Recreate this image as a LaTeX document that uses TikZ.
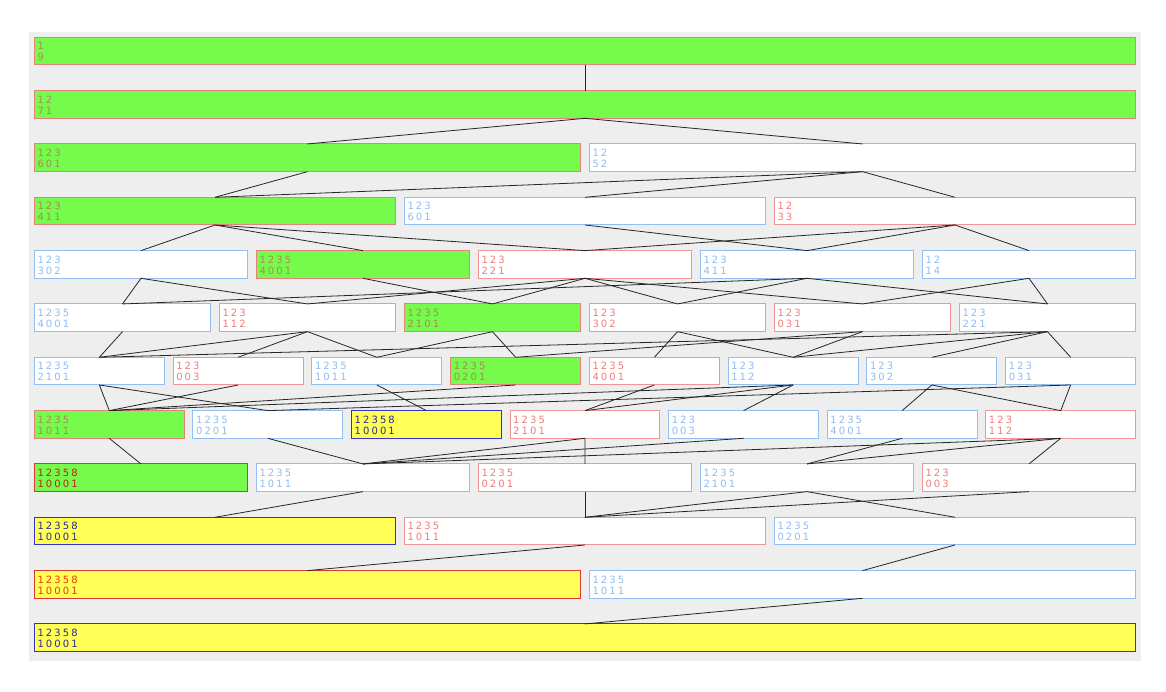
\documentclass[tikz,border=0pt]{standalone}
\usepackage{fontspec}
\newfontfamily\lblfont[LetterSpace=21]{DejaVu Sans}
\definecolor{bgc}{HTML}{EEEEEE}
\definecolor{grn}{HTML}{76FA4C}
\definecolor{salmon}{HTML}{E48478}
\definecolor{brn}{HTML}{A48E52}
\definecolor{lblue}{HTML}{92BEF2}
\definecolor{lbluet}{HTML}{90BCF2}
\definecolor{lred}{HTML}{F09696}
\definecolor{lredt}{HTML}{F07C7C}
\definecolor{ylw}{HTML}{FFFF55}
\definecolor{dblue}{HTML}{3434CC}
\definecolor{dbluet}{HTML}{2A2A96}
\definecolor{rred}{HTML}{DC3636}
\definecolor{rredt}{HTML}{E83A10}
\definecolor{drt}{HTML}{B02A10}
\tikzset{
  boxbase/.style={rectangle, inner sep=0pt, outer sep=0pt, line width=1pt, anchor=north west, minimum height=27.7pt},
  greenbox/.style={boxbase, fill=grn, draw=salmon},
  greenredbox/.style={boxbase, fill=grn, draw=rred},
  bluebox/.style={boxbase, fill=white, draw=lblue},
  redbox/.style={boxbase, fill=white, draw=lred},
  yellowbluebox/.style={boxbase, fill=ylw, draw=dblue},
  yellowredbox/.style={boxbase, fill=ylw, draw=rred},
  lbl/.style={font=\lblfont\fontsize{10}{11}\selectfont, inner sep=0pt, anchor=base west},
  conn/.style={draw=black!85, line width=0.8pt},
}
% #1 name, #2 row, #3 col, #4 boxes in row, #5 box style, #6 text colour, #7 line 1, #8 line 2
\newcommand\mkbox[8]{%
  \pgfmathsetmacro\bxp{1110/#4}%
  \pgfmathsetmacro\bxl{34.3+#3*\bxp}%
  \pgfmathsetmacro\bxw{\bxp-8.6}%
  \pgfmathsetmacro\bxt{37.3+53.33*#2}%
  \node[#5, minimum width=\bxw pt] (#1) at (\bxl,\bxt) {};%
  \node[lbl, text=#6] at ([shift={(3pt,-12.5pt)}]#1.north west) {#7};%
  \node[lbl, text=#6] at ([shift={(3pt,-23.5pt)}]#1.north west) {#8};%
}
\begin{document}
\begin{tikzpicture}[x=1pt,y=-1pt]
\useasboundingbox (0,0) rectangle (1166,692);
\fill[white] (0,0) rectangle (1166,692);
\fill[bgc] (29,31.7) rectangle (1140.7,660.7);
% row 0
\mkbox{a1}{0}{0}{1}{greenbox}{brn}{1}{9}
% row 1
\mkbox{b1}{1}{0}{1}{greenbox}{brn}{12}{71}
% row 2
\mkbox{c1}{2}{0}{2}{greenbox}{brn}{123}{601}
\mkbox{c2}{2}{1}{2}{bluebox}{lbluet}{12}{52}
% row 3
\mkbox{d1}{3}{0}{3}{greenbox}{brn}{123}{411}
\mkbox{d2}{3}{1}{3}{bluebox}{lbluet}{123}{601}
\mkbox{d3}{3}{2}{3}{redbox}{lredt}{12}{33}
% row 4
\mkbox{e1}{4}{0}{5}{bluebox}{lbluet}{123}{302}
\mkbox{e2}{4}{1}{5}{greenbox}{brn}{1235}{4001}
\mkbox{e3}{4}{2}{5}{redbox}{lredt}{123}{221}
\mkbox{e4}{4}{3}{5}{bluebox}{lbluet}{123}{411}
\mkbox{e5}{4}{4}{5}{bluebox}{lbluet}{12}{14}
% row 5
\mkbox{f1}{5}{0}{6}{bluebox}{lbluet}{1235}{4001}
\mkbox{f2}{5}{1}{6}{redbox}{lredt}{123}{112}
\mkbox{f3}{5}{2}{6}{greenbox}{brn}{1235}{2101}
\mkbox{f4}{5}{3}{6}{redbox}{lredt}{123}{302}
\mkbox{f5}{5}{4}{6}{redbox}{lredt}{123}{031}
\mkbox{f6}{5}{5}{6}{bluebox}{lbluet}{123}{221}
% row 6
\mkbox{g1}{6}{0}{8}{bluebox}{lbluet}{1235}{2101}
\mkbox{g2}{6}{1}{8}{redbox}{lredt}{123}{003}
\mkbox{g3}{6}{2}{8}{bluebox}{lbluet}{1235}{1011}
\mkbox{g4}{6}{3}{8}{greenbox}{brn}{1235}{0201}
\mkbox{g5}{6}{4}{8}{redbox}{lredt}{1235}{4001}
\mkbox{g6}{6}{5}{8}{bluebox}{lbluet}{123}{112}
\mkbox{g7}{6}{6}{8}{bluebox}{lbluet}{123}{302}
\mkbox{g8}{6}{7}{8}{bluebox}{lbluet}{123}{031}
% row 7
\mkbox{h1}{7}{0}{7}{greenbox}{brn}{1235}{1011}
\mkbox{h2}{7}{1}{7}{bluebox}{lbluet}{1235}{0201}
\mkbox{h3}{7}{2}{7}{yellowbluebox}{dbluet}{12358}{10001}
\mkbox{h4}{7}{3}{7}{redbox}{lredt}{1235}{2101}
\mkbox{h5}{7}{4}{7}{bluebox}{lbluet}{123}{003}
\mkbox{h6}{7}{5}{7}{bluebox}{lbluet}{1235}{4001}
\mkbox{h7}{7}{6}{7}{redbox}{lredt}{123}{112}
% row 8
\mkbox{i1}{8}{0}{5}{greenredbox}{drt}{12358}{10001}
\mkbox{i2}{8}{1}{5}{bluebox}{lbluet}{1235}{1011}
\mkbox{i3}{8}{2}{5}{redbox}{lredt}{1235}{0201}
\mkbox{i4}{8}{3}{5}{bluebox}{lbluet}{1235}{2101}
\mkbox{i5}{8}{4}{5}{redbox}{lredt}{123}{003}
% row 9
\mkbox{j1}{9}{0}{3}{yellowbluebox}{dbluet}{12358}{10001}
\mkbox{j2}{9}{1}{3}{redbox}{lredt}{1235}{1011}
\mkbox{j3}{9}{2}{3}{bluebox}{lbluet}{1235}{0201}
% row 10
\mkbox{k1}{10}{0}{2}{yellowredbox}{rredt}{12358}{10001}
\mkbox{k2}{10}{1}{2}{bluebox}{lbluet}{1235}{1011}
% row 11
\mkbox{l1}{11}{0}{1}{yellowbluebox}{dbluet}{12358}{10001}
% connectors
\foreach \p/\q in {a1/b1, b1/c1, b1/c2,
  c1/d1, c2/d1, c2/d2, c2/d3,
  d1/e1, d1/e2, d1/e3, d2/e4, d3/e3, d3/e4, d3/e5,
  e1/f1, e1/f2, e2/f3, e3/f2, e3/f3, e3/f4, e3/f5, e4/f1, e4/f4, e4/f6, e5/f5, e5/f6,
  f1/g1, f2/g1, f2/g2, f2/g3, f3/g3, f3/g4, f4/g5, f4/g6, f5/g4, f5/g6, f6/g1, f6/g6, f6/g7, f6/g8,
  g1/h1, g1/h2, g2/h1, g3/h3, g4/h1, g5/h4, g6/h1, g6/h4, g6/h5, g7/h6, g7/h7, g8/h2, g8/h7,
  h1/i1, h2/i2, h4/i2, h4/i3, h5/i2, h6/i4, h7/i2, h7/i4, h7/i5,
  i2/j1, i3/j2, i4/j2, i4/j3, i5/j2,
  j2/k1, j3/k2,
  k2/l1}
  \draw[conn] (\p.south) -- (\q.north);
\end{tikzpicture}
\end{document}
